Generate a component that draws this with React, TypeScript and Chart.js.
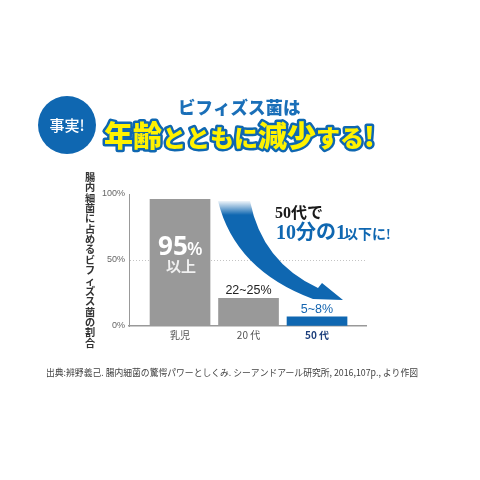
import { useEffect, useRef } from "react";
import { Chart, registerables, type Plugin } from "chart.js";

Chart.register(...registerables);

const SANS = '"Liberation Sans", "Noto Sans CJK JP", sans-serif';
const JP = '"Noto Sans CJK JP", sans-serif';
const SERIF = '"Liberation Serif", "Noto Sans CJK JP", serif';
const BLUE = "#0f67b1";

const ageLabels = ["乳児", "20 代", "50 代"];
const positions = [1, 2, 3];
const shares = [96, 21, 7];
const barColors = ["#999999", "#999999", "#0f67b1"];
const yTicks = [0, 50, 100];
const barNotes = ["", "22~25%", "5~8%"];
const noteColors = ["", "#222222", "#1565b0"];
const yTitle = "腸内細菌に占めるビフィズス菌の割合";
const source = "出典:辨野義己. 腸内細菌の驚愕パワーとしくみ. シーアンドアール研究所, 2016,107p., より作図";

// text, font size pairs so that the kanji can be bigger than the kana
const headlineRuns: [string, number][] = [
  ["年齢", 29],
  ["とともに", 24],
  ["減少", 29],
  ["する", 24],
  ["!", 27],
];

const decorations: Plugin<"bar"> = {
  id: "decorations",
  afterDatasetsDraw(chart) {
    const ctx = chart.ctx;
    const meta = chart.getDatasetMeta(0);
    ctx.save();
    ctx.textBaseline = "alphabetic";

    // badge
    ctx.fillStyle = BLUE;
    ctx.beginPath();
    ctx.arc(67, 125, 29, 0, Math.PI * 2);
    ctx.fill();
    ctx.fillStyle = "#fff";
    ctx.textAlign = "center";
    ctx.font = `500 15px ${JP}`;
    ctx.fillText("事実!", 67, 131);

    // headline
    ctx.font = `900 17.5px ${JP}`;
    ctx.fillStyle = "#1a6fb8";
    ctx.textAlign = "left";
    ctx.fillText("ビフィズス菌は", 178, 114);

    let x = 104;
    ctx.lineJoin = "round";
    headlineRuns.forEach(([text, size]) => {
      ctx.font = `900 ${size}px ${JP}`;
      ctx.lineWidth = 5;
      ctx.strokeStyle = BLUE;
      ctx.strokeText(text, x, 147);
      ctx.fillStyle = "#fff200";
      ctx.fillText(text, x, 147);
      x += ctx.measureText(text).width;
    });

    // vertical axis title, one character per line
    ctx.font = `700 10.2px ${JP}`;
    ctx.fillStyle = "#333";
    ctx.textAlign = "center";
    [...yTitle].forEach((ch, i) => ctx.fillText(ch, 90, 181 + i * 10.35));

    // labels on the bars
    const first = meta.data[0];
    ctx.fillStyle = "#fff";
    ctx.font = `700 26px "Open Sans", ${SANS}`;
    ctx.textAlign = "left";
    ctx.fillText("95", first.x - 22, 255);
    ctx.font = `600 18px "Open Sans", ${SANS}`;
    ctx.fillText("%", first.x + 7, 255);
    ctx.textAlign = "center";
    ctx.font = `700 15px ${JP}`;
    ctx.fillStyle = "#f0f0f0";
    ctx.fillText("以上", first.x + 1, 272);

    ctx.font = `500 12.5px ${SANS}`;
    barNotes.forEach((note, i) => {
      if (!note) return;
      ctx.fillStyle = noteColors[i];
      ctx.fillText(note, meta.data[i].x, meta.data[i].y - 4);
    });

    // curved arrow
    const fade = ctx.createLinearGradient(0, 200, 0, 215);
    fade.addColorStop(0, "#ffffff");
    fade.addColorStop(1, BLUE);
    ctx.fillStyle = fade;
    ctx.beginPath();
    ctx.moveTo(218, 201);
    ctx.quadraticCurveTo(235, 270, 313, 299);
    ctx.lineTo(343, 300);
    ctx.lineTo(322, 283);
    ctx.lineTo(318, 288);
    ctx.quadraticCurveTo(262, 262, 250, 201);
    ctx.closePath();
    ctx.fill();

    // callout
    ctx.textAlign = "left";
    ctx.fillStyle = "#1a1a1a";
    ctx.font = `700 16px ${SERIF}`;
    ctx.fillText("50代で", 275, 218);
    ctx.fillStyle = BLUE;
    ctx.font = `700 20px ${SERIF}`;
    ctx.fillText("10分の1", 276, 239);
    ctx.font = `700 14px ${SERIF}`;
    ctx.fillText("以下に!", 344, 239);

    // source line
    ctx.fillStyle = "#444";
    ctx.font = `400 9.6px ${JP}`;
    ctx.fillText(source, 46, 376, 372);
    ctx.restore();
  },
};

export default function App() {
  const canvasRef = useRef<HTMLCanvasElement | null>(null);

  useEffect(() => {
    if (!canvasRef.current) return;
    const chart = new Chart(canvasRef.current, {
      type: "bar",
      data: {
        datasets: [
          {
            data: positions.map((p, i) => ({ x: p, y: shares[i] })),
            backgroundColor: barColors,
            barThickness: 60,
          },
        ],
      },
      options: {
        responsive: false,
        animation: false,
        devicePixelRatio: 1,
        layout: { padding: { left: 0, top: 194, right: 114, bottom: 130 } },
        plugins: { legend: { display: false }, tooltip: { enabled: false } },
        scales: {
          x: {
            type: "linear",
            offset: false,
            min: 0.255,
            max: 3.715,
            afterFit: (s) => {
              s.height = 24;
            },
            afterBuildTicks: (s) => {
              s.ticks = positions.map((value) => ({ value }));
            },
            grid: { display: false, drawTicks: false, offset: false },
            border: { color: "#999", width: 1.5 },
            ticks: {
              autoSkip: false,
              maxRotation: 0,
              padding: 3,
              callback: (v) => ageLabels[Number(v) - 1],
              color: (c) => (c.index === 2 ? "#1d3f7c" : "#555"),
              font: (c) => ({ family: JP, size: 10, weight: c.index === 2 ? 700 : 400 }),
            },
          },
          y: {
            min: 0,
            max: 100,
            afterFit: (s) => {
              s.width = 129;
            },
            afterBuildTicks: (s) => {
              s.ticks = yTicks.map((value) => ({ value }));
            },
            grid: {
              color: (c) => (c.tick.value === 50 ? "#c4c4c4" : "transparent"),
              drawTicks: false,
              lineWidth: 1,
            },
            border: { color: "#999", width: 1, dash: [1, 2] },
            ticks: {
              padding: 4,
              color: "#666",
              font: { family: SANS, size: 9 },
              callback: (v) => `${v}%`,
            },
          },
        },
      },
      plugins: [decorations],
    });
    return () => chart.destroy();
  }, []);

  return (
    <div style={{ position: "absolute", left: 0, top: 0, width: 480, height: 480, background: "#fff" }}>
      <canvas ref={canvasRef} width={480} height={480} style={{ display: "block" }}></canvas>
    </div>
  );
}
